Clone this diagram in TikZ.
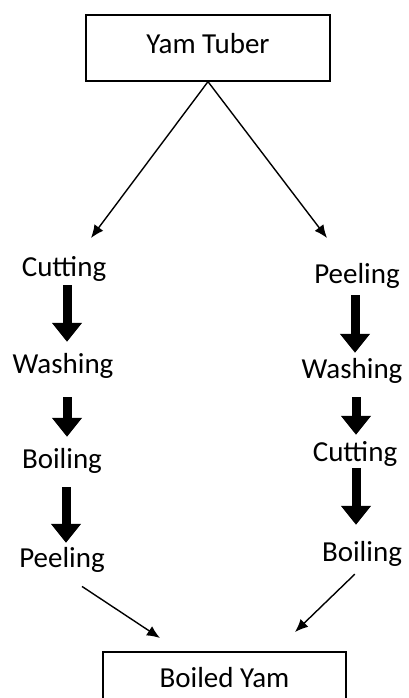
\documentclass[tikz,border=0pt]{standalone}
\usepackage{fontspec}
\setmainfont{Carlito}
\usepackage{tikz}
\usetikzlibrary{positioning,arrows.meta}
\tikzset{
  stepbox/.style={draw, line width=1.3pt, inner sep=0pt, minimum width=244pt, minimum height=66pt,
                  font=\fontsize{29}{35}\selectfont, text height=18pt, text depth=6pt},
  stage/.style={inner sep=0pt, anchor=base, font=\fontsize{29}{35}\selectfont,
                text height=18pt, text depth=6pt},
  thinarr/.style={-{Latex[length=13pt,width=11pt]}, line width=1.4pt},
  blk/.style={-{Triangle[length=19pt,width=29pt]}, line width=9pt},
}

\begin{document}
\begin{tikzpicture}[x=1pt,y=1pt]
  \useasboundingbox (0,0) rectangle (409,-698);

  \node[stepbox] (tuber) at (208,-48) {Yam Tuber};
  \node[stepbox, minimum width=243pt, minimum height=0pt, inner ysep=17pt] (boiled) at (224.5,-681) {Boiled Yam};

  % left route
  \node[stage] (cut1) at (64,-276) {Cutting};
  \node[stage] (wash1) at (63,-373) {Washing};
  \node[stage] (boil1) at (62,-468) {Boiling};
  \node[stage] (peel1) at (62,-567) {Peeling};

  % right route
  \node[stage] (peel2) at (357,-283) {Peeling};
  \node[stage] (wash2) at (352,-378) {Washing};
  \node[stage] (cut2) at (355,-461) {Cutting};
  \node[stage] (boil2) at (362,-561) {Boiling};

  \coordinate (lsplit) at (91,-238);
  \coordinate (rsplit) at (327,-238);
  \coordinate (lmerge) at (160,-638);
  \coordinate (rmerge) at (295,-632);

  \draw[thinarr] (tuber.south) -- (lsplit);
  \draw[thinarr] (tuber.south) -- (rsplit);

  \draw[blk, shorten <=3pt, shorten >=13pt] ([xshift=3pt]cut1.south) -- ([xshift=3pt]cut1.south |- wash1.north);
  \draw[blk, shorten <=18pt, shorten >=13pt] ([xshift=4pt]wash1.south) -- ([xshift=4pt]wash1.south |- boil1.north);
  \draw[blk, shorten <=13pt, shorten >=6pt] ([xshift=4pt]boil1.south) -- ([xshift=4pt]boil1.south |- peel1.north);

  \draw[blk, shorten <=6pt, shorten >=7pt] ([xshift=-2pt]peel2.south) -- ([xshift=-2pt]peel2.south |- wash2.north);
  \draw[blk, shorten <=13pt, shorten >=8pt] ([xshift=4pt]wash2.south) -- ([xshift=4pt]wash2.south |- cut2.north);
  \draw[blk, shorten <=1pt, shorten >=18pt] ([xshift=1pt]cut2.south) -- ([xshift=1pt]cut2.south |- boil2.north);

  \draw[thinarr, shorten <=24pt] (peel1.south) -- (lmerge);
  \draw[thinarr, shorten <=10pt] (boil2.south) -- (rmerge);

\end{tikzpicture}
\end{document}
